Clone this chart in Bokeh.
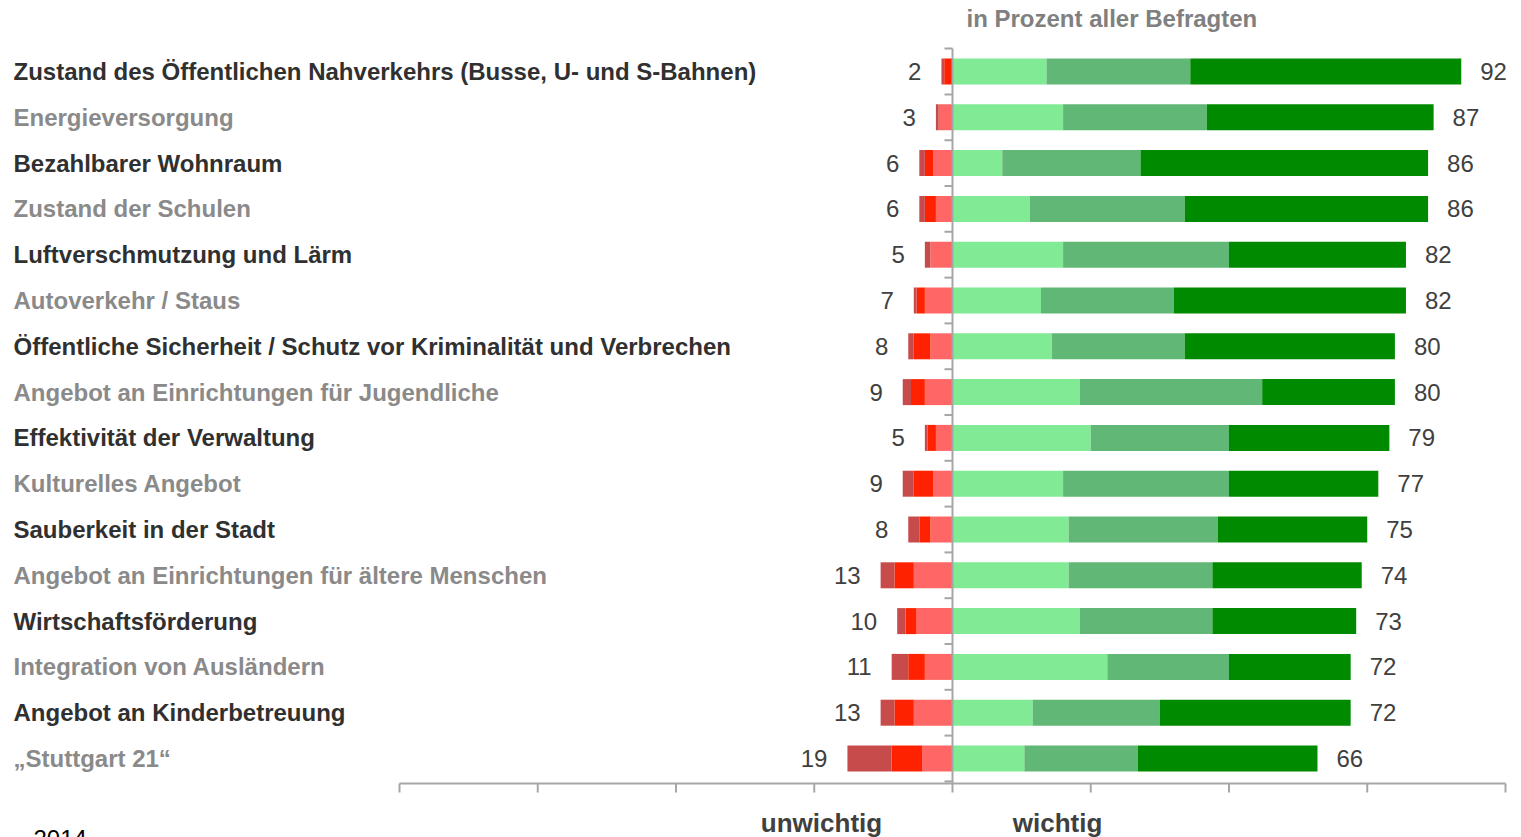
from bokeh.plotting import figure
from bokeh.models import Range1d
from bokeh.core.properties import value
from bokeh.embed import file_html
from bokeh.resources import INLINE

categories = [
    "Zustand des Öffentlichen Nahverkehrs (Busse, U- und S-Bahnen)",
    "Energieversorgung",
    "Bezahlbarer Wohnraum",
    "Zustand der Schulen",
    "Luftverschmutzung und Lärm",
    "Autoverkehr / Staus",
    "Öffentliche Sicherheit / Schutz vor Kriminalität und Verbrechen",
    "Angebot an Einrichtungen für Jugendliche",
    "Effektivität der Verwaltung",
    "Kulturelles Angebot",
    "Sauberkeit in der Stadt",
    "Angebot an Einrichtungen für ältere Menschen",
    "Wirtschaftsförderung",
    "Integration von Ausländern",
    "Angebot an Kinderbetreuung",
    "„Stuttgart 21“",
]
# unwichtig (negative side): outermost dark red, red, light red next to axis
neg_dark = [0.5, 0.5, 1, 1, 1, 0.5, 1, 1.5, 0.5, 2, 2, 2.5, 1.5, 3, 2.5, 8]
neg_mid = [1.5, 0, 1.5, 2, 0, 1.5, 3, 2.5, 1.5, 3.5, 2, 3.5, 2, 3, 3.5, 5.5]
neg_light = [0, 2.5, 3.5, 3, 4, 5, 4, 5, 3, 3.5, 4, 7, 6.5, 5, 7, 5.5]
# wichtig (positive side): light green, mid green, dark green
pos_light = [17, 20, 9, 14, 20, 16, 18, 23, 25, 20, 21, 21, 23, 28, 14.5, 13]
pos_mid = [26, 26, 25, 28, 30, 24, 24, 33, 25, 30, 27, 26, 24, 22, 23, 20.5]
pos_dark = [49, 41, 52, 44, 32, 42, 38, 24, 29, 27, 27, 27, 26, 22, 34.5, 32.5]
neg_total = [2, 3, 6, 6, 5, 7, 8, 9, 5, 9, 8, 13, 10, 11, 13, 19]
pos_total = [92, 87, 86, 86, 82, 82, 80, 80, 79, 77, 75, 74, 73, 72, 72, 66]
x_ticks = [-100, -75, -50, -25, 0, 25, 50, 75, 100]
year_label = "2014"

W, H = 1513, 837
S = 5.53          # px per percent
ZERO = 952        # canvas x of zero line
ROW = 45.8        # px per row
ROW0 = 71         # canvas y of first row

def dx(px):
    return px / S

def ypx(py):
    return (py - ROW0) / ROW

X0 = -ZERO / S
X1 = (W - ZERO) / S
Y_TOP = ypx(0)
Y_BOT = ypx(H)

p = figure(width=W, height=H, x_range=Range1d(X0, X1), y_range=Range1d(Y_BOT, Y_TOP),
           x_axis_type=None, y_axis_type=None, toolbar_location=None,
           output_backend="svg", min_border=0, outline_line_color=None)
p.grid.visible = False
p.background_fill_color = "white"
p.border_fill_color = "white"

n = len(categories)
ys = list(range(n))
bh = 26 / ROW

# negative stacks
l_light = [-v for v in neg_light]
l_mid = [-(a + b) for a, b in zip(neg_light, neg_mid)]
l_dark = [-(a + b + c) for a, b, c in zip(neg_light, neg_mid, neg_dark)]
p.hbar(y=ys, left=l_light, right=[0] * n, height=bh, fill_color="#FF6666", line_color=None)
p.hbar(y=ys, left=l_mid, right=l_light, height=bh, fill_color="#FF2200", line_color=None)
p.hbar(y=ys, left=l_dark, right=l_mid, height=bh, fill_color="#C84B4B", line_color=None)

# positive stacks
r1 = pos_light
r2 = [a + b for a, b in zip(pos_light, pos_mid)]
r3 = [a + b + c for a, b, c in zip(pos_light, pos_mid, pos_dark)]
p.hbar(y=ys, left=[0] * n, right=r1, height=bh, fill_color="#80EA95", line_color=None)
p.hbar(y=ys, left=r1, right=r2, height=bh, fill_color="#61B775", line_color=None)
p.hbar(y=ys, left=r2, right=r3, height=bh, fill_color="#008A00", line_color=None)

axis_col = "#A6A6A6"
# vertical zero axis with ticks at category boundaries
y_bottom = ypx(783)
p.segment(x0=[0], y0=[ypx(48)], x1=[0], y1=[y_bottom], line_color=axis_col, line_width=2)
bounds = [i - 0.5 for i in range(n + 1)]
p.segment(x0=[dx(-8)] * len(bounds), y0=bounds, x1=[0] * len(bounds), y1=bounds,
          line_color=axis_col, line_width=2)

# bottom axis
p.segment(x0=[x_ticks[0]], y0=[y_bottom], x1=[x_ticks[-1]], y1=[y_bottom], line_color=axis_col, line_width=2)
p.segment(x0=x_ticks, y0=[y_bottom] * len(x_ticks), x1=x_ticks,
          y1=[ypx(792)] * len(x_ticks), line_color=axis_col, line_width=2)

font = value("Liberation Sans")
# category labels
lab_x = [dx(13 - ZERO)] * n
lab_col = ["#303030" if i % 2 == 0 else "#8A8A8A" for i in range(n)]
p.text(x=lab_x, y=ys, text=categories, text_color=lab_col, text_font=font,
       text_font_style="bold", text_font_size="24px", text_align="left", text_baseline="middle")

# value labels
p.text(x=[-(v) - dx(20) for v in neg_total], y=ys, text=[str(v) for v in neg_total],
       text_color="#404040", text_font=font, text_font_size="24px",
       text_align="right", text_baseline="middle")
p.text(x=[v + dx(19) for v in pos_total], y=ys, text=[str(v) for v in pos_total],
       text_color="#404040", text_font=font, text_font_size="24px",
       text_align="left", text_baseline="middle")

# header and footer texts
p.text(x=[dx(966 - ZERO)], y=[ypx(18)], text=["in Prozent aller Befragten"],
       text_color="#808080", text_font=font, text_font_style="bold", text_font_size="24px",
       text_align="left", text_baseline="middle")
p.text(x=[dx(821 - ZERO), dx(1057 - ZERO)], y=[ypx(822)] * 2, text=["unwichtig", "wichtig"],
       text_color="#404040", text_font=font, text_font_style="bold", text_font_size="26px",
       text_align="center", text_baseline="middle")
p.text(x=[dx(33 - ZERO)], y=[ypx(829)], text=[year_label],
       text_color="#000000", text_font=font, text_font_size="24px",
       text_align="left", text_baseline="top")

open("out.html", "w").write(file_html(p, INLINE))
